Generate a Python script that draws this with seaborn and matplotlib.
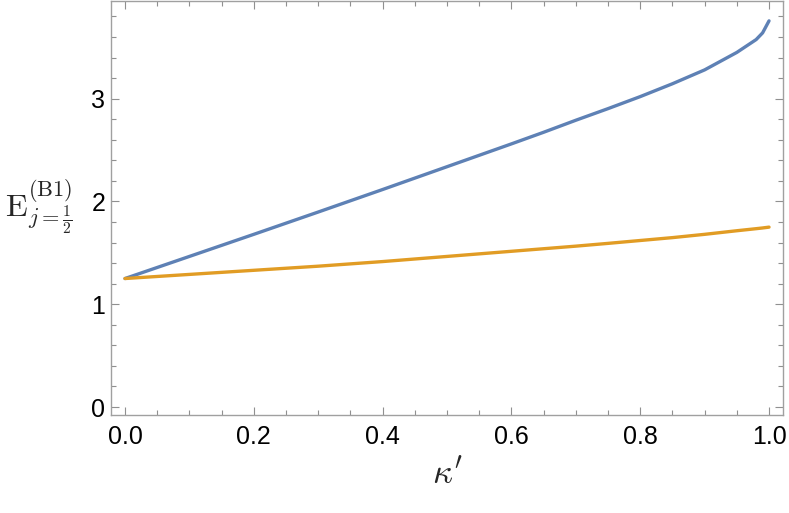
import matplotlib
matplotlib.use("Agg")
import matplotlib.pyplot as plt
from matplotlib.ticker import MultipleLocator
import numpy as np
import pandas as pd
import seaborn as sns

# values
kappa = [0.0, 0.1, 0.2, 0.3, 0.4, 0.5, 0.6, 0.65, 0.7, 0.75, 0.8, 0.85, 0.9, 0.95, 0.98, 0.99, 1.0]
e_blue = [1.25, 1.465, 1.68, 1.897, 2.116, 2.338, 2.56, 2.673, 2.79, 2.903, 3.02, 3.145, 3.28, 3.45,
          3.575, 3.64, 3.757]
e_orange = [1.25, 1.29, 1.33, 1.37, 1.415, 1.465, 1.515, 1.54, 1.565, 1.592, 1.62, 1.648, 1.68, 1.715,
            1.735, 1.742, 1.75]

BLUE = "#5E81B5"
ORANGE = "#E19C24"


def plot():
    sns.set_style("ticks")
    plt.rcParams["font.family"] = ["Liberation Sans", "DejaVu Sans"]
    plt.rcParams["mathtext.fontset"] = "cm"

    df = pd.DataFrame({
        "k": kappa * 2,
        "E": e_blue + e_orange,
        "curve": ["b"] * len(kappa) + ["o"] * len(kappa),
    })

    fig = plt.figure(figsize=(7.89, 5.13), dpi=100)
    ax = fig.add_axes([0.1407, 0.191, 0.8517, 0.808])
    sns.lineplot(data=df, x="k", y="E", hue="curve", palette={"b": BLUE, "o": ORANGE},
                 linewidth=2.4, legend=False, ax=ax, sort=True)

    ax.set_xlim(-0.0217, 1.0217)
    ax.set_ylim(-0.078, 3.955)
    ax.xaxis.set_major_locator(MultipleLocator(0.2))
    ax.xaxis.set_minor_locator(MultipleLocator(0.05))
    ax.yaxis.set_major_locator(MultipleLocator(1))
    ax.yaxis.set_minor_locator(MultipleLocator(0.2))
    ax.xaxis.set_major_formatter(plt.FormatStrFormatter("%.1f"))

    for s in ax.spines.values():
        s.set_visible(True)
        s.set_color("#a0a0a0")
        s.set_linewidth(1.0)
    ax.tick_params(which="both", direction="in", top=True, right=True,
                   color="#909090", width=0.8, labelsize=18, labelcolor="black")
    ax.tick_params(which="major", length=6)
    ax.tick_params(which="minor", length=3.5)
    ax.tick_params(axis="x", pad=7)
    ax.tick_params(axis="y", pad=4)

    ax.set_xlabel(r"$\kappa'$", fontsize=25, labelpad=6)
    ax.set_ylabel(r"$\mathrm{E}_{j=\frac{1}{2}}^{(\mathrm{B1})}$", fontsize=23,
                  rotation=0, va="center", ha="center")
    ax.yaxis.set_label_coords(-0.108, 0.5)

    fig.savefig("out.png", dpi=100)


if __name__ == "__main__":
    plot()
